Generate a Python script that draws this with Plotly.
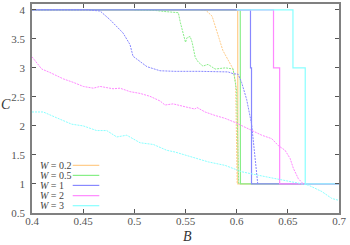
import plotly.graph_objects as go

# ---- data ----
W_labels = ["0.2", "0.5", "1", "2", "3"]
colors = ["#ffcc88", "#88ee88", "#8888ff", "#ff88ff", "#88ffff"]

# solid (step) curves
s02_B = [0.4, 0.601, 0.6012, 0.7]
s02_C = [4, 4, 1, 1]
s05_B = [0.4, 0.6035, 0.6037, 0.7]
s05_C = [4, 4, 1, 1]
s1_B = [0.4, 0.6135, 0.6135, 0.6145, 0.6145, 0.7]
s1_C = [4, 4, 3, 3, 1, 1]
s2_B = [0.6, 0.636, 0.636, 0.642, 0.642, 0.7]
s2_C = [4, 4, 3, 3, 1, 1]
s3_B = [0.6, 0.655, 0.655, 0.667, 0.667, 0.7]
s3_C = [4, 4, 3, 3, 1, 1]

# dashed curves
d02_B = [0.565, 0.570, 0.576, 0.582, 0.5865, 0.589, 0.5935, 0.5965, 0.599, 0.600, 0.6005]
d02_C = [4.0, 3.99, 3.89, 3.55, 3.3, 3.22, 3.06, 2.98, 2.75, 1.8, 1.0]

d05_B = [0.50, 0.52, 0.53, 0.54, 0.543, 0.545, 0.548, 0.55, 0.5515, 0.5545, 0.5565,
         0.5595, 0.5625, 0.567, 0.572, 0.579, 0.589, 0.5965, 0.600, 0.601, 0.602]
d05_C = [4.0, 3.99, 3.97, 3.96, 3.95, 3.78, 3.6, 3.44, 3.52, 3.54, 3.44,
         3.18, 3.1, 3.03, 3.06, 2.98, 3.0, 2.98, 2.6, 1.5, 1.0]

d1_B = [0.40, 0.4538, 0.4665, 0.4762, 0.4890, 0.4958, 0.4987, 0.5026, 0.5124, 0.5251,
        0.5398, 0.5642, 0.5916, 0.5965, 0.6014, 0.6048, 0.6097, 0.6146, 0.6206]
d1_C = [4.0, 4.0, 3.98, 3.83, 3.6, 3.4, 3.2, 3.15, 3.02, 2.95,
        2.94, 2.94, 2.93, 2.9, 2.89, 2.75, 2.46, 2.03, 1.0]

d2_B = [0.400, 0.4095, 0.4176, 0.4306, 0.4404, 0.4501, 0.4599, 0.4665, 0.4792, 0.4860,
        0.4958, 0.5056, 0.5153, 0.5251, 0.5300, 0.5378, 0.5496, 0.5593, 0.5610, 0.5691,
        0.5789, 0.5887, 0.5984, 0.6114, 0.6245, 0.6343, 0.6408, 0.6473, 0.6522, 0.6554,
        0.6603, 0.6652]
d2_C = [3.19, 2.98, 2.92, 2.81, 2.75, 2.68, 2.65, 2.68, 2.64, 2.65,
        2.59, 2.56, 2.51, 2.43, 2.36, 2.38, 2.33, 2.29, 2.32, 2.24,
        2.18, 2.13, 2.06, 1.95, 1.84, 1.78, 1.66, 1.58, 1.44, 1.27,
        1.09, 1.0]

d3_B = [0.400, 0.4110, 0.4241, 0.4339, 0.4388, 0.4501, 0.4632, 0.4730, 0.4828, 0.4926,
        0.5056, 0.5186, 0.5317, 0.5398, 0.5593, 0.5723, 0.5887, 0.6050, 0.6212, 0.6375,
        0.6539, 0.6701, 0.6832, 0.6930, 0.6995]
d3_C = [2.24, 2.24, 2.14, 2.06, 2.03, 2.0, 1.92, 1.92, 1.81, 1.84,
        1.71, 1.68, 1.58, 1.55, 1.44, 1.38, 1.32, 1.21, 1.15, 1.09,
        1.04, 0.98, 0.87, 0.75, 0.72]

x_ticks = [0.4, 0.45, 0.5, 0.55, 0.6, 0.65, 0.7]
x_ticktext = ["0.4", "0.45", "0.5", "0.55", "0.6", "0.65", "0.7"]
y_ticks = [0.5, 1, 1.5, 2, 2.5, 3, 3.5, 4]
y_ticktext = ["0.5", "1", "1.5", "2", "2.5", "3", "3.5", "4"]

solids = [(s02_B, s02_C), (s05_B, s05_C), (s1_B, s1_C), (s2_B, s2_C), (s3_B, s3_C)]
dashes = [(d02_B, d02_C), (d05_B, d05_C), (d1_B, d1_C), (d2_B, d2_C), (d3_B, d3_C)]

fig = go.Figure()
for i in range(5):
    db, dc = dashes[i]
    fig.add_trace(go.Scatter(x=db, y=dc, mode="lines",
                             line=dict(color=colors[i], width=1, dash="2px,1px"),
                             showlegend=False, hoverinfo="skip"))
    sb, sc = solids[i]
    fig.add_trace(go.Scatter(x=sb, y=sc, mode="lines",
                             line=dict(color=colors[i], width=1.2),
                             showlegend=False, hoverinfo="skip"))

font_family = "Liberation Serif, serif"

# manual legend (text left, line sample right)
rows_y = [0.228, 0.180, 0.132, 0.083, 0.035]
for i, lab in enumerate(W_labels):
    fig.add_annotation(x=0.0195, y=rows_y[i], xref="paper", yref="paper",
                       text="<i>W</i> = " + lab, showarrow=False,
                       xanchor="left", yanchor="middle",
                       font=dict(family=font_family, size=10, color="#444"))
    fig.add_shape(type="line", xref="paper", yref="paper",
                  x0=0.1326, x1=0.2192, y0=rows_y[i], y1=rows_y[i],
                  line=dict(color=colors[i], width=1.2))

# axis labels
fig.add_annotation(x=0.505, y=-0.113, xref="paper", yref="paper", text="<i>B</i>",
                   showarrow=False, xanchor="center", yanchor="middle",
                   font=dict(family=font_family, size=14, color="#333"))
fig.add_annotation(x=-0.085, y=0.52, xref="paper", yref="paper", text="<i>C</i>",
                   showarrow=False, xanchor="center", yanchor="middle",
                   font=dict(family=font_family, size=14, color="#333"))

axis_common = dict(showline=True, linecolor="#808080", linewidth=1.5, mirror="ticks",
                   ticks="inside", ticklen=4, tickcolor="#555", tickwidth=1,
                   showgrid=False, zeroline=False, automargin=False,
                   tickfont=dict(family=font_family, size=11, color="#555"))

fig.update_xaxes(range=[0.4, 0.7], tickvals=x_ticks, ticktext=x_ticktext,
                 ticklabelstandoff=-3, **axis_common)
fig.update_yaxes(range=[0.5, 4.1], tickvals=y_ticks, ticktext=y_ticktext,
                 ticklabelstandoff=3, **axis_common)

fig.update_layout(width=350, height=245,
                  margin=dict(l=32, r=11, t=4, b=32),
                  font=dict(family=font_family, size=11, color="#555"),
                  paper_bgcolor="white", plot_bgcolor="white",
                  showlegend=False)

fig.write_html("out.html", config={"displayModeBar": False},
               post_script="document.body.style.margin='0';document.body.style.overflow='hidden';")
